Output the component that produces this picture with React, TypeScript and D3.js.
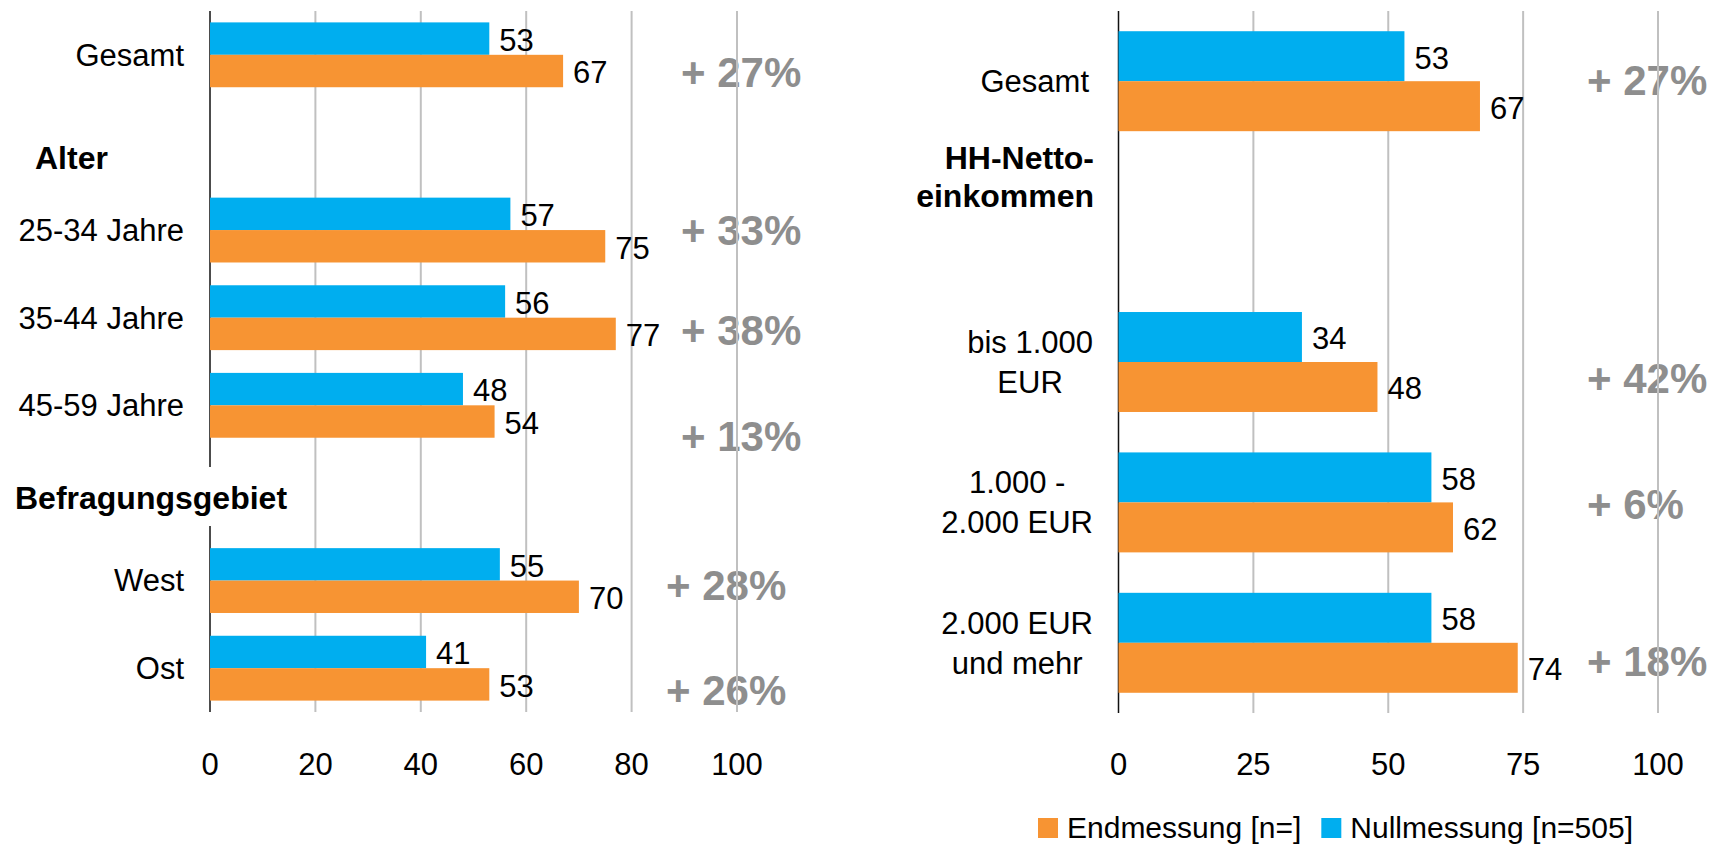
import React from "react";
import * as d3 from "d3";

// left panel: age and region
const leftCategories = ["Gesamt", "Alter", "25-34 Jahre", "35-44 Jahre", "45-59 Jahre", "Befragungsgebiet", "West", "Ost"];
const leftHeaders = ["Alter", "Befragungsgebiet"];
const leftNull = [53, null, 57, 56, 48, null, 55, 41];
const leftEnd = [67, null, 75, 77, 54, null, 70, 53];
const leftChange = ["+ 27%", null, "+ 33%", "+ 38%", "+ 13%", null, "+ 28%", "+ 26%"];
const leftTicks = [0, 20, 40, 60, 80, 100];

// right panel: household income
const rightCategories = ["Gesamt", "HH-Netto-einkommen", "bis 1.000 EUR", "1.000 - 2.000 EUR", "2.000 EUR und mehr"];
const rightHeaders = ["HH-Netto-einkommen"];
const rightLines = [["Gesamt"], ["HH-Netto-", "einkommen"], ["bis 1.000", "EUR"], ["1.000 -", "2.000 EUR"], ["2.000 EUR", "und mehr"]];
const rightNull = [53, null, 34, 58, 58];
const rightEnd = [67, null, 48, 62, 74];
const rightChange = ["+ 27%", null, "+ 42%", "+ 6%", "+ 18%"];
const rightTicks = [0, 25, 50, 75, 100];

const seriesNames = ["Endmessung [n=]", "Nullmessung [n=505]"];

const ORANGE = "#F79433";
const BLUE = "#00AEEF";
const GREY = "#8E8E8E";
const GRID = "#C0C0C0";
const FONT = "'Liberation Sans', Arial, sans-serif";
const FS = 31;
const FSB = 32;

let ctx = null;
const textWidth = (t, size, bold = false) => {
  if (!ctx) ctx = document.createElement("canvas").getContext("2d");
  ctx.font = `${bold ? "bold " : ""}${size}px ${FONT}`;
  return ctx.measureText(t).width;
};

// hand placed text boxes of the original (offsets from category centre)
const leftChangePos = [{ x: 681, dy: 17 }, null, { x: 681, dy: 0 }, { x: 681, dy: 13 }, { x: 681, dy: 31 }, null, { x: 666, dy: 5 }, { x: 666, dy: 22 }];
const leftHeaderPos = { Alter: { x: 35, dy: 15 }, Befragungsgebiet: { x: 15, dy: 5 } };
const rightChangePos = [{ x: 1587, dy: -1 }, null, { x: 1587, dy: 16 }, { x: 1587, dy: 2 }, { x: 1587, dy: 18 }];

const Panel = ({ cats, nul, end, change, changePos, ticks, x0, x1, y0, y1, pad, renderLabel, gaps }) => {
  const x = d3.scaleLinear().domain([0, 100]).range([x0, x1]);
  const y = d3.scaleBand().domain(cats).range([y0, y1]).paddingInner(pad).paddingOuter(pad / 2);
  const bw = y.bandwidth();
  const h = bw / 2;
  const mid = c => y(c) + bw / 2;

  return (
    <g>
      {change.map((t, i) =>
        t ? (
          <text key={"c" + i} x={changePos[i].x} y={mid(cats[i]) + changePos[i].dy} dy="0.35em"
            fontFamily={FONT} fontSize={42} fontWeight="bold" fill={GREY}>{t}</text>
        ) : null
      )}
      {ticks.filter(t => t > 0).map(t => (
        <line key={"g" + t} x1={x(t)} x2={x(t)} y1={y0} y2={y1} stroke={GRID} strokeWidth={2} />
      ))}
      <line x1={x0} x2={x0} y1={y0} y2={y1} stroke="#111" strokeWidth={1.5} />
      {gaps}
      {cats.map((c, i) =>
        nul[i] == null ? null : (
          <g key={"b" + i}>
            <rect x={x0} y={y(c)} width={x(nul[i]) - x0} height={h} fill={BLUE} />
            <rect x={x0} y={y(c) + h} width={x(end[i]) - x0} height={h} fill={ORANGE} />
            <text x={x(nul[i]) + 10} y={y(c) + h / 2 + 1.5} dy="0.35em" fontFamily={FONT} fontSize={FS}>{nul[i]}</text>
            <text x={x(end[i]) + 10} y={y(c) + h * 1.5 + 1.5} dy="0.35em" fontFamily={FONT} fontSize={FS}>{end[i]}</text>
          </g>
        )
      )}
      {cats.map((c, i) => renderLabel(c, i, mid(c)))}
      {ticks.map(t => (
        <text key={"t" + t} x={x(t)} y={764} dy="0.35em" textAnchor="middle" fontFamily={FONT} fontSize={FS}>{t}</text>
      ))}
    </g>
  );
};

const App = () => {
  const leftLabel = (c, i, cy) => {
    if (leftHeaders.includes(c)) {
      const p = leftHeaderPos[c];
      return (
        <text key={"l" + i} x={p.x} y={cy + p.dy} dy="0.35em" fontFamily={FONT} fontSize={FSB} fontWeight="bold">{c}</text>
      );
    }
    return (
      <text key={"l" + i} x={184} y={cy} dy="0.35em" textAnchor="end" fontFamily={FONT} fontSize={FS}>{c}</text>
    );
  };

  const rightLabel = (c, i, cy) => {
    const lines = rightLines[i];
    if (rightHeaders.includes(c)) {
      const cc = cy - 45;
      return (
        <text key={"r" + i} textAnchor="end" fontFamily={FONT} fontSize={FSB} fontWeight="bold">
          {lines.map((l, k) => (
            <tspan key={k} x={1094} y={cc + 0.35 * FSB + (k - (lines.length - 1) / 2) * 38}>{l}</tspan>
          ))}
        </text>
      );
    }
    const w = d3.max(lines, l => textWidth(l, FS));
    const right = lines.length > 1 ? 1093 : 1089;
    const cx = right - w / 2;
    return (
      <text key={"r" + i} textAnchor="middle" fontFamily={FONT} fontSize={FS}>
        {lines.map((l, k) => (
          <tspan key={k} x={cx} y={cy + 0.35 * FS + (k - (lines.length - 1) / 2) * 40}>{l}</tspan>
        ))}
      </text>
    );
  };

  // legend
  const legendColors = [ORANGE, BLUE];
  let lx = 1038;
  const legend = seriesNames.map((s, i) => {
    const item = (
      <g key={"lg" + i}>
        <rect x={lx} y={818} width={20} height={20} fill={legendColors[i]} />
        <text x={lx + 29} y={838} fontFamily={FONT} fontSize={30}>{s}</text>
      </g>
    );
    lx += 29 + textWidth(s, 30) + 20;
    return item;
  });

  return (
    <svg width={1716} height={845} style={{ position: "absolute", left: 0, top: 0, background: "#fff" }}>
      <Panel
        cats={leftCategories} nul={leftNull} end={leftEnd} change={leftChange} changePos={leftChangePos}
        ticks={leftTicks} x0={210} x1={737} y0={11} y1={712} pad={0.26}
        renderLabel={leftLabel}
        gaps={<rect x={8} y={467} width={292} height={59} fill="#fff" />}
      />
      <Panel
        cats={rightCategories} nul={rightNull} end={rightEnd} change={rightChange} changePos={rightChangePos}
        ticks={rightTicks} x0={1118.5} x1={1658} y0={11} y1={713} pad={0.288}
        renderLabel={rightLabel}
        gaps={null}
      />
      {legend}
    </svg>
  );
};

export default App;
